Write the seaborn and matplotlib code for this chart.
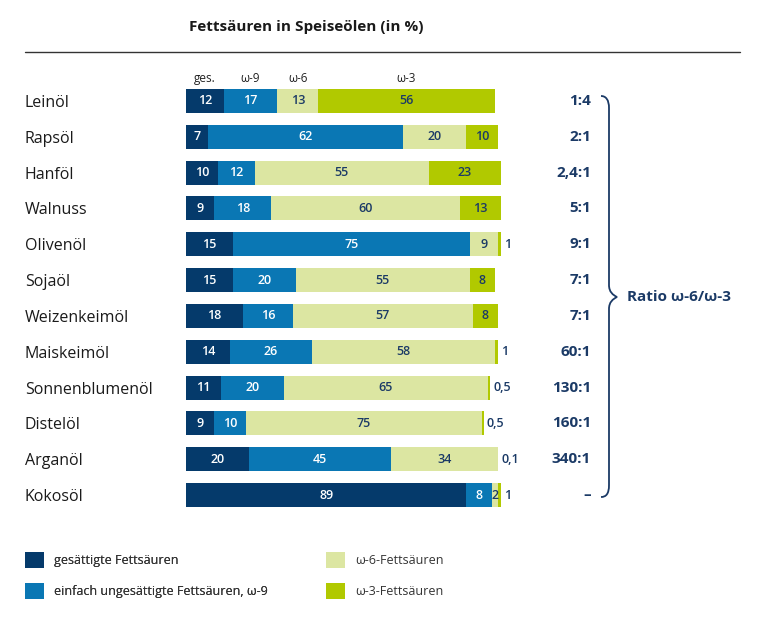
import numpy as np
import pandas as pd
import matplotlib
matplotlib.use("Agg")
import matplotlib.pyplot as plt
import seaborn as sns
from matplotlib.path import Path
from matplotlib.patches import PathPatch, Patch

# ---------------- data ----------------
oils = ["Leinöl", "Rapsöl", "Hanföl", "Walnuss", "Olivenöl", "Sojaöl",
        "Weizenkeimöl", "Maiskeimöl", "Sonnenblumenöl", "Distelöl",
        "Arganöl", "Kokosöl"]
gesaettigt = [12, 7, 10, 9, 15, 15, 18, 14, 11, 9, 20, 89]
omega9 = [17, 62, 12, 18, 75, 20, 16, 26, 20, 10, 45, 8]
omega6 = [13, 20, 55, 60, 9, 55, 57, 58, 65, 75, 34, 2]
omega3 = [56, 10, 23, 13, 1, 8, 8, 1, 0.5, 0.5, 0.1, 1]
ratios = ["1:4", "2:1", "2,4:1", "5:1", "9:1", "7:1", "7:1", "60:1",
          "130:1", "160:1", "340:1", "–"]
components = ["gesättigte Fettsäuren", "einfach ungesättigte Fettsäuren, ω-9",
              "ω-6-Fettsäuren", "ω-3-Fettsäuren"]
headers = ["ges.", "ω-9", "ω-6", "ω-3"]

colors = ["#053a6b", "#0a77b4", "#dce6a2", "#b1c900"]
text_colors = ["white", "white", "#1b3a66", "#1b3a66"]
NAVY = "#1b3a66"

# ---------------- table ----------------
series = [gesaettigt, omega9, omega6, omega3]
rows = []
for i, oil in enumerate(oils):
    cum = 0
    for c, vals in zip(components, series):
        v = vals[i]
        cum += v
        rows.append({"oil": oil, "comp": c, "value": v, "end": cum})
df = pd.DataFrame(rows)

sns.set_theme(style="white")
plt.rcParams["font.family"] = ["Open Sans", "DejaVu Sans"]

W, H = 760, 622
fig = plt.figure(figsize=(W / 100, H / 100), dpi=100)
fig.patch.set_facecolor("white")

x0_px, x1_px = 186, 501
row_top, row_bot = 83, 513
ax = fig.add_axes([x0_px / W, 1 - row_bot / H, (x1_px - x0_px) / W, (row_bot - row_top) / H])

# stacked bars: draw cumulative totals from longest to shortest
for c, col in reversed(list(zip(components, colors))):
    sub = df[df["comp"] == c]
    sns.barplot(data=sub, x="end", y="oil", order=oils, color=col,
                width=0.67, orient="h", errorbar=None, linewidth=0,
                saturation=1, ax=ax)

ax.set_xlim(0, 100)
ax.set_ylim(len(oils) - 0.5, -0.5)
ax.set_xlabel("")
ax.set_ylabel("")
for s in ax.spines.values():
    s.set_visible(False)
ax.set_xticks([])
ax.tick_params(axis="y", length=0, pad=(x0_px - 25) * 0.72, labelsize=11.5,
               labelcolor="#1a1a1a")
for lab in ax.get_yticklabels():
    lab.set_ha("left")


def fmt(v):
    if float(v).is_integer():
        return str(int(v))
    return str(v).replace(".", ",")


# value labels
for _, r in df.iterrows():
    i = oils.index(r["oil"])
    k = components.index(r["comp"])
    v = r["value"]
    if k == 3 and v < 2:
        ax.text(r["end"] + 1.0, i, fmt(v), ha="left", va="center",
                fontsize=9, color=NAVY, fontweight="semibold", clip_on=False)
    else:
        ax.text(r["end"] - v / 2, i, fmt(v), ha="center", va="center",
                fontsize=9, color=text_colors[k], fontweight="semibold")

# column headers above first bar
cum = 0
for k, h in enumerate(headers):
    v = series[k][0]
    ax.text(cum + v / 2, -0.62, h, ha="center", va="center", fontsize=8.5,
            color="#222222")
    cum += v

# ratio labels
scale = (x1_px - x0_px) / 100
for i, rt in enumerate(ratios):
    ax.text((591 - x0_px) / scale, i, rt, ha="right", va="center",
            fontsize=11, fontweight="bold", color=NAVY, clip_on=False)

# ---------------- overlay ----------------
ov = fig.add_axes([0, 0, 1, 1])
ov.set_xlim(0, W)
ov.set_ylim(H, 0)
ov.axis("off")
ov.patch.set_alpha(0)

ov.text(306, 27, "Fettsäuren in Speiseölen (in %)", ha="center", va="center",
        fontsize=11, fontweight="bold", color="#1a1a1a")
ov.plot([25, 740], [52, 52], color="#333333", lw=1)

verts = [(601, 96), (606, 96), (609, 100), (609, 108),
         (609, 285),
         (609, 292), (613, 295), (617, 297),
         (613, 299), (609, 302), (609, 309),
         (609, 485),
         (609, 494), (606, 497), (601, 497)]
codes = [Path.MOVETO, Path.CURVE4, Path.CURVE4, Path.CURVE4,
         Path.LINETO,
         Path.CURVE4, Path.CURVE4, Path.CURVE4,
         Path.CURVE4, Path.CURVE4, Path.CURVE4,
         Path.LINETO,
         Path.CURVE4, Path.CURVE4, Path.CURVE4]
ov.add_patch(PathPatch(Path(verts, codes), facecolor="none", edgecolor=NAVY, lw=1.3))
ov.text(627, 297, "Ratio ω-6/ω-3", ha="left", va="center", fontsize=11,
        fontweight="bold", color=NAVY)

# legend
handles = [Patch(facecolor=c, edgecolor="none") for c in colors]
leg_kw = dict(loc="upper left", frameon=False, fontsize=9, handlelength=1.5,
              handleheight=1.6, handletextpad=0.8, labelspacing=1.2,
              borderpad=0, borderaxespad=0, labelcolor="#333333")
l1 = fig.legend(handles[:2], components[:2], bbox_to_anchor=(25 / W, 1 - 552 / H), **leg_kw)
fig.add_artist(l1)
fig.legend(handles[2:], components[2:], bbox_to_anchor=(326 / W, 1 - 552 / H), **leg_kw)

fig.savefig("out.png", dpi=100, facecolor="white")
